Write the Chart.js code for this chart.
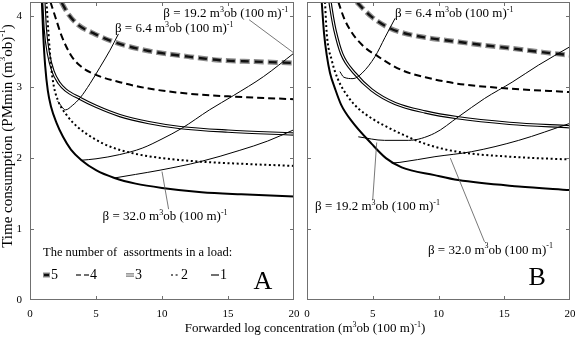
<!DOCTYPE html>
<html>
<head>
<meta charset="utf-8">
<script src="https://cdn.jsdelivr.net/npm/chart.js@4.4.1/dist/chart.umd.min.js"></script>
<style>
  body { margin: 0; background: #fff; }
  #wrap { position: relative; width: 575px; height: 337px; font-family: "Liberation Serif", serif; color: #000; }
  .panel { position: absolute; top: 0; height: 337px; }
  #xtitle { position: absolute; left: 0; width: 610px; top: 320px; text-align: center; font-size: 13px; line-height: 15px; }
  #xtitle sup { font-size: 8px; vertical-align: 5px; line-height: 0; }
</style>
</head>
<body>
<div id="wrap">
  <div class="panel" style="left:0;width:300px"><canvas id="chartA"></canvas></div>
  <div class="panel" style="left:300px;width:275px"><canvas id="chartB"></canvas></div>
  <div id="xtitle">Forwarded log concentration (m<sup>3</sup>ob (100 m)<sup>-1</sup>)</div>
</div>
<script>
// axis ticks
const xTicks = [0, 5, 10, 15, 20];
const yTicks = [0, 1, 2, 3, 4];

// panel A: number of assortments in a load (1..5), [x, y]
const a1 = [[0.9,4.2],[1.0,3.75],[1.15,3.3],[1.35,2.95],[1.6,2.72],[2.0,2.5],[2.5,2.3],[3.1,2.12],[3.9,1.97],[5,1.83],[6.4,1.72],[8,1.64],[10,1.58],[13,1.52],[16,1.49],[20,1.46]];
const a2 = [[1.25,4.2],[1.4,3.76],[1.6,3.29],[1.8,3.02],[2.1,2.82],[2.8,2.6],[3.6,2.44],[4.8,2.28],[6.1,2.16],[8,2.06],[10,2.0],[12.9,1.95],[16,1.92],[20,1.89]];
const a3 = [[1.05,4.2],[1.17,3.8],[1.4,3.47],[1.75,3.22],[2.2,3.06],[2.7,2.96],[3.8,2.84],[5,2.73],[6.8,2.6],[9,2.5],[11.4,2.43],[15,2.38],[20,2.34]];
const a4 = [[1.55,4.2],[1.9,4.0],[2.4,3.72],[3.1,3.45],[3.8,3.3],[4.9,3.18],[6.8,3.07],[9,2.98],[11.9,2.91],[15,2.87],[20,2.83]];
const a5 = [[2.37,4.2],[2.9,4.03],[3.64,3.88],[4.9,3.75],[6.8,3.61],[9,3.51],[12,3.43],[14.4,3.38],[17,3.36],[20,3.34]];
// panel A: beta lines and leaders
const aBeta64 = [[2.1,2.8],[2.7,2.68],[3.2,2.74],[3.8,2.85],[4.55,3.05],[5.3,3.28],[6.06,3.52],[6.7,3.75]];
const aBeta192 = [[3.9,1.97],[5,1.99],[6.8,2.05],[8.5,2.14],[10,2.27],[11.5,2.42],[13.6,2.68],[15.4,2.88],[17.7,3.15],[20,3.48]];
const aBeta320 = [[6.4,1.72],[8,1.77],[9.85,1.83],[12.9,1.95],[15.9,2.11],[18,2.24],[20,2.4]];
const aLead192 = [[16.6,3.95],[20,3.48]];
const aLead320 = [[10.0,1.81],[10.5,1.28]];

// panel B
const b1 = [[1.12,4.2],[1.3,3.75],[1.5,3.45],[1.75,3.2],[2.13,2.98],[2.6,2.75],[3.4,2.52],[4.92,2.2],[6.0,2.0],[7.2,1.87],[9.7,1.76],[11.5,1.69],[16.1,1.6],[20,1.55]];
const b2 = [[1.37,4.2],[1.5,3.76],[1.88,3.38],[2.38,3.1],[3.14,2.86],[3.9,2.7],[4.92,2.56],[6.18,2.43],[7.3,2.33],[9,2.2],[11.4,2.09],[15.4,2.02],[20,1.98]];
const b3 = [[1.75,4.2],[1.95,3.97],[2.13,3.8],[2.64,3.47],[3.65,3.19],[4.92,2.96],[6.7,2.77],[9,2.65],[11.4,2.57],[15.4,2.49],[20,2.44]];
const b4 = [[2.38,4.2],[2.8,3.98],[3.3,3.8],[4.16,3.6],[5.42,3.43],[7.2,3.24],[9,3.14],[11.4,3.05],[15.4,2.98],[20,2.93]];
const b5 = [[3.78,4.2],[4.4,4.08],[4.92,3.99],[6.18,3.84],[7.2,3.77],[9,3.7],[11.4,3.64],[13.5,3.59],[15.4,3.55],[18,3.49],[20,3.45]];
const bBeta64 = [[2.5,3.22],[2.8,3.14],[3.5,3.12],[4.2,3.2],[5.17,3.43],[5.93,3.7],[6.7,3.97]];
const bBeta192 = [[3.9,2.3],[5.9,2.25],[7.7,2.25],[9.7,2.35],[11.5,2.58],[13.5,2.84],[15.6,3.07],[17.6,3.31],[20,3.57]];
const bBeta320 = [[6.44,1.93],[7.07,1.94],[9.73,2.02],[12.5,2.09],[16.1,2.25],[20,2.49]];
const bLead192 = [[5.3,2.22],[5.0,1.42]];
const bLead320 = [[10.9,2.0],[13.5,0.82]];

const FONT = '"Liberation Serif", "Times New Roman", serif';

function line(pts, color, width, dash, offset, smooth) {
  return {
    data: pts.map(p => ({ x: p[0], y: p[1] })),
    borderColor: color,
    borderWidth: width,
    borderDash: dash || [],
    borderDashOffset: offset || 0,
    pointRadius: 0,
    fill: false,
    cubicInterpolationMode: smooth === false ? 'default' : 'monotone',
    tension: 0
  };
}

function buildSets(c1, c2, c3, c4, c5, beta64, beta192, beta320, lead192, lead320) {
  // bottom to top
  const sets = [
    line(c5, '#8c8c8c', 5, [10, 4]),
    line(c5, '#111', 2.4, [8, 6], -1),
    line(c4, '#000', 2, [7, 4]),
    line(c3, '#000', 3.4),
    line(c3, '#fff', 1.1),
    line(c2, '#000', 2, [2, 2.6]),
    line(c1, '#000', 2),
    line(beta64, '#000', 1),
    line(beta192, '#000', 1),
    line(beta320, '#000', 1),
    line(lead192, '#555', 0.8, [], 0, false),
    line(lead320, '#555', 0.8, [], 0, false)
  ];
  sets.forEach((s, i) => { s.order = sets.length - i; });
  return sets;
}

function rich(ctx, parts, x, y, size) {
  let cx = x;
  parts.forEach(([t, sup]) => {
    const s = sup ? Math.round(size * 0.62) : size;
    ctx.font = s + 'px ' + FONT;
    ctx.fillText(t, cx, sup ? y - size * 0.33 : y);
    cx += ctx.measureText(t).width;
  });
  return cx - x;
}

function betaParts(v) {
  return [['\u03b2 = ' + v + ' m', 0], ['3', 1], ['ob (100 m)', 0], ['-1', 1]];
}

function sample(ctx, x, y, len, kind) {
  ctx.save();
  ctx.beginPath();
  ctx.moveTo(x, y); ctx.lineTo(x + len, y);
  if (kind === 5) {
    ctx.strokeStyle = '#8c8c8c'; ctx.lineWidth = 5; ctx.stroke();
    ctx.beginPath(); ctx.moveTo(x + 1, y); ctx.lineTo(x + len - 1, y);
    ctx.strokeStyle = '#111'; ctx.lineWidth = 2.4; ctx.stroke();
  } else if (kind === 4) {
    ctx.setLineDash([5, 3]); ctx.lineWidth = 2; ctx.stroke();
  } else if (kind === 3) {
    ctx.lineWidth = 3.4; ctx.stroke();
    ctx.strokeStyle = '#fff'; ctx.lineWidth = 1.1; ctx.stroke();
  } else if (kind === 2) {
    ctx.setLineDash([2, 2.6]); ctx.lineWidth = 2; ctx.stroke();
  } else {
    ctx.lineWidth = 2; ctx.stroke();
  }
  ctx.restore();
}

const framePlugin = {
  id: 'frame',
  afterDatasetsDraw(chart, args, opts) {
    const { ctx, chartArea: a } = chart;
    const sx = chart.scales.x, sy = chart.scales.y;
    ctx.save();
    ctx.strokeStyle = '#707070';
    ctx.lineWidth = 1;
    ctx.strokeRect(a.left + 0.5, a.top + 0.5, a.width - 1, a.height - 1);
    ctx.beginPath();
    xTicks.slice(1, -1).forEach(v => {
      const px = Math.round(sx.getPixelForValue(v)) + 0.5;
      ctx.moveTo(px, a.bottom); ctx.lineTo(px, a.bottom - 4);
      ctx.moveTo(px, a.top); ctx.lineTo(px, a.top + 4);
    });
    yTicks.slice(1).forEach(v => {
      const py = Math.round(sy.getPixelForValue(v)) + 0.5;
      ctx.moveTo(a.left, py); ctx.lineTo(a.left + 4, py);
      ctx.moveTo(a.right, py); ctx.lineTo(a.right - 4, py);
    });
    ctx.stroke();

    ctx.fillStyle = '#000';
    ctx.textBaseline = 'middle';
    ctx.textAlign = 'left';
    (opts.labels || []).forEach(l => {
      rich(ctx, betaParts(l.text), sx.getPixelForValue(l.x), sy.getPixelForValue(l.y), 13);
    });
    ctx.textAlign = 'center';
    ctx.font = '26px ' + FONT;
    ctx.fillText(opts.letter, sx.getPixelForValue(opts.letterAt[0]), sy.getPixelForValue(opts.letterAt[1]));

    if (opts.legend) {
      ctx.textAlign = 'left';
      ctx.font = '12.5px ' + FONT;
      ctx.fillText('The number of  assortments in a load:', 43, 253);
      const items = [[5, 43, 7], [4, 76, 13], [3, 126, 8], [2, 171, 9], [1, 211, 8]];
      items.forEach(([k, x, len]) => {
        sample(ctx, x, 275, len, k);
        ctx.font = '14px ' + FONT;
        ctx.fillText(String(k), x + len + 1, 275);
      });
      // y title
      ctx.save();
      ctx.translate(8, 136);
      ctx.rotate(-Math.PI / 2);
      ctx.textAlign = 'left';
      const parts = [['Time consumption (PMmin (m', 0], ['3', 1], ['ob)', 0], ['-1', 1], [')', 0]];
      ctx.globalAlpha = 0;
      const w = rich(ctx, parts, 0, 0, 15);
      ctx.globalAlpha = 1;
      rich(ctx, parts, -w / 2, 0, 15);
      ctx.restore();
    }
    ctx.restore();
  }
};

function makeChart(id, sets, showY, padding, frameOpts) {
  return new Chart(document.getElementById(id), {
    type: 'line',
    data: { datasets: sets },
    options: {
      responsive: true,
      maintainAspectRatio: false,
      animation: false,
      events: [],
      layout: { padding: padding },
      plugins: { legend: { display: false }, tooltip: { enabled: false }, frame: frameOpts },
      scales: {
        x: {
          type: 'linear', min: 0, max: 20,
          grid: { display: false, drawTicks: false },
          border: { display: false },
          afterBuildTicks: s => { s.ticks = xTicks.map(v => ({ value: v })); },
          afterFit: s => { s.height = 37; s.paddingLeft = 0; s.paddingRight = 0; },
          ticks: { padding: 8, maxRotation: 0, color: '#000', font: { family: FONT, size: 11 } }
        },
        y: {
          type: 'linear', min: 0, max: 4.2, display: showY,
          grid: { display: false, drawTicks: false },
          border: { display: false },
          afterBuildTicks: s => { s.ticks = yTicks.map(v => ({ value: v })); },
          afterFit: s => { s.width = showY ? 30 : 0; s.paddingTop = 0; s.paddingBottom = 0; },
          ticks: { padding: 8, color: '#000', font: { family: FONT, size: 11 } }
        }
      }
    },
    plugins: [framePlugin]
  });
}

makeChart('chartA', buildSets(a1, a2, a3, a4, a5, aBeta64, aBeta192, aBeta320, aLead192, aLead320), true,
  { left: 0, top: 2, right: 6, bottom: 0 },
  {
    labels: [{ text: '19.2', x: 10.1, y: 4.03 }, { text: '6.4', x: 6.44, y: 3.82 }, { text: '32.0', x: 5.5, y: 1.17 }],
    letter: 'A', letterAt: [17.65, 0.25], legend: true
  });

makeChart('chartB', buildSets(b1, b2, b3, b4, b5, bBeta64, bBeta192, bBeta320, bLead192, bLead320), false,
  { left: 7, top: 2, right: 5, bottom: 0 },
  {
    labels: [{ text: '6.4', x: 6.69, y: 4.03 }, { text: '19.2', x: 0.61, y: 1.31 }, { text: '32.0', x: 9.2, y: 0.7 }],
    letter: 'B', letterAt: [17.5, 0.31], legend: false
  });
</script>
</body>
</html>
